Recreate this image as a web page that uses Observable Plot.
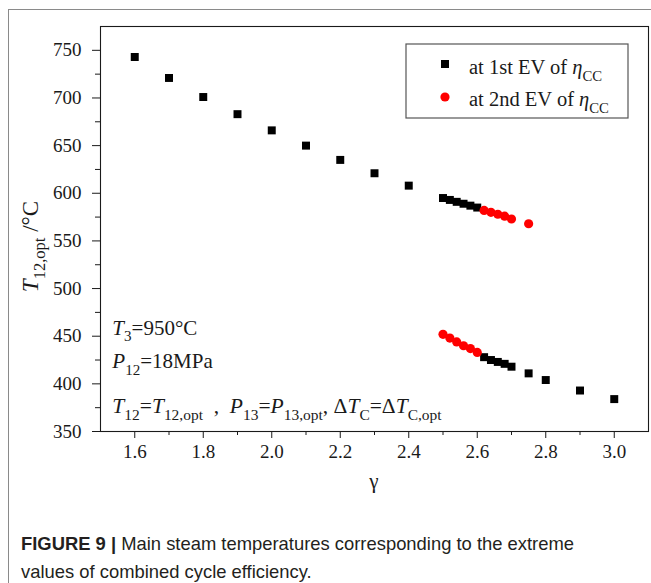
<!DOCTYPE html>
<html>
<head>
<meta charset="utf-8">
<script src="https://cdn.jsdelivr.net/npm/d3@7"></script>
<script src="https://cdn.jsdelivr.net/npm/@observablehq/plot@0.6"></script>
<style>
  body { margin: 0; background: #fff; }
  #wrap { position: relative; width: 651px; height: 583px; overflow: hidden; }
  #frame { position: absolute; left: 8px; top: 9px; right: -4px; bottom: -4px;
           border-left: 1px solid #8a8a8a; border-top: 1px solid #8a8a8a; }
  #chart { position: absolute; left: 0; top: 0; }
  #caption { position: absolute; left: 21px; top: 530px; font-family: "Liberation Sans", Arial, sans-serif;
             font-size: 18.4px; line-height: 28px; color: #231f20; }
  #caption b { font-weight: bold; }
</style>
</head>
<body>
<div id="wrap">
  <div id="frame"></div>
  <div id="chart"></div>
  <div id="caption"><b>FIGURE 9 |</b> Main steam temperatures corresponding to the extreme<br>values of combined cycle efficiency.</div>
</div>
<script>
// Optimal main steam temperature T12,opt (°C) versus pressure ratio γ
// at the 1st extreme value of combined-cycle efficiency
const gamma1st = [1.6, 1.7, 1.8, 1.9, 2.0, 2.1, 2.2, 2.3, 2.4,
                  2.5, 2.52, 2.54, 2.56, 2.58, 2.6,
                  2.62, 2.64, 2.66, 2.68, 2.7, 2.75, 2.8, 2.9, 3.0];
const temp1st  = [743, 721, 701, 683, 666, 650, 635, 621, 608,
                  595, 593, 591, 589, 587, 585,
                  428, 425, 423, 421, 418, 411, 404, 393, 384];

// ... and at the 2nd extreme value
const gamma2nd = [2.5, 2.52, 2.54, 2.56, 2.58, 2.6,
                  2.62, 2.64, 2.66, 2.68, 2.7, 2.75];
const temp2nd  = [452, 448, 444, 440, 437, 433,
                  582, 580, 578, 576, 573, 568];

// Axis ticks
const xMajor = [1.6, 1.8, 2.0, 2.2, 2.4, 2.6, 2.8, 3.0];
const xMinor = [1.7, 1.9, 2.1, 2.3, 2.5, 2.7, 2.9];
const yMajor = [350, 400, 450, 500, 550, 600, 650, 700, 750];
const yMinor = [375, 425, 475, 525, 575, 625, 675, 725];

const legendLabels = ["at 1st EV of ", "at 2nd EV of "];

const first = gamma1st.map((g, i) => ({g, t: temp1st[i]}));
const second = gamma2nd.map((g, i) => ({g, t: temp2nd[i]}));

const serif = '"Liberation Serif", "Times New Roman", serif';
const ink = "#1a1a1a";

const plot = Plot.plot({
  width: 651,
  height: 500,
  marginLeft: 100,
  marginRight: 3,
  marginTop: 26,
  marginBottom: 69,
  x: {domain: [1.5, 3.1]},
  y: {domain: [350, 775]},
  style: {fontFamily: serif, fontSize: "19px", color: ink, background: "transparent", overflow: "visible"},
  marks: [
    Plot.axisX({ticks: xMajor, tickSize: 7, tickPadding: 6, tickFormat: d3.format(".1f"), label: null,
                stroke: ink, fill: ink, fontSize: 19, fontFamily: serif}),
    Plot.axisX({ticks: xMinor, tickSize: 4, fill: "none", label: null, stroke: ink}),
    Plot.axisY({ticks: yMajor, tickSize: 8, tickPadding: 11, label: null,
                stroke: ink, fill: ink, fontSize: 19, fontFamily: serif}),
    Plot.axisY({ticks: yMinor, tickSize: 5, fill: "none", label: null, stroke: ink}),
    Plot.dot(first, {x: "g", y: "t", symbol: "square", r: 4.5, fill: "#000"}),
    Plot.dot(second, {x: "g", y: "t", symbol: "circle", r: 4.6, fill: "#ff0000"}),
    Plot.frame({stroke: ink, strokeWidth: 1.1})
  ]
});

document.getElementById("chart").append(plot);

const svg = d3.select(plot);
svg.selectAll("text").style("font-family", serif).style("font-variant", "normal");
const xs = plot.scale("x"), ys = plot.scale("y");

// Text with italic symbols and dropped subscripts
function rich(parent, parts, size) {
  const t = parent.append("text")
    .attr("font-size", size)
    .attr("text-anchor", "start")
    .attr("fill", ink)
    .style("font-family", serif);
  let shift = 0;
  for (const [s, kind] of parts) {
    const ts = t.append("tspan").text(s);
    const sub = kind.includes("s");
    const target = sub ? size * 0.32 : 0;
    if (target !== shift) { ts.attr("dy", target - shift); shift = target; }
    if (sub) ts.attr("font-size", size * 0.72);
    if (kind.includes("i")) ts.attr("font-style", "italic");
  }
  return t;
}

// y-axis title
rich(svg, [["T", "i"], ["12,opt", "s"], [" /°C", ""]], 23)
  .attr("text-anchor", "middle")
  .attr("transform", `translate(38,${(ys.apply(775) + ys.apply(350)) / 2 + 18}) rotate(-90)`);

// x-axis title
svg.append("text")
  .attr("x", (xs.apply(1.5) + xs.apply(3.1)) / 2)
  .attr("y", 488)
  .attr("text-anchor", "middle")
  .attr("font-size", 21)
  .attr("fill", ink)
  .style("font-family", serif)
  .text("γ");

// Operating-condition notes
const noteX = xs.apply(1.536);
rich(svg, [["T", "i"], ["3", "s"], ["=950°C", ""]], 21)
  .attr("transform", `translate(${noteX},${ys.apply(451)})`);
rich(svg, [["P", "i"], ["12", "s"], ["=18MPa", ""]], 21)
  .attr("transform", `translate(${noteX},${ys.apply(416)})`);
rich(svg, [
  ["T", "i"], ["12", "s"], ["=", ""], ["T", "i"], ["12,opt", "s"], ["  ,  ", ""],
  ["P", "i"], ["13", "s"], ["=", ""], ["P", "i"], ["13,opt", "s"], [", Δ", ""],
  ["T", "i"], ["C", "s"], ["=Δ", ""], ["T", "i"], ["C,opt", "s"]
], 21.5).attr("transform", `translate(${noteX},${ys.apply(369)})`).attr("xml:space", "preserve").style("white-space", "pre");

// Legend
const lg = svg.append("g");
lg.append("rect")
  .attr("x", 406).attr("y", 44).attr("width", 222).attr("height", 74)
  .attr("fill", "#fff").attr("stroke", "#555").attr("stroke-width", 1.2);
lg.append("rect")
  .attr("x", 441).attr("y", 60).attr("width", 8).attr("height", 8).attr("fill", "#000");
lg.append("circle")
  .attr("cx", 445).attr("cy", 97).attr("r", 4.6).attr("fill", "#ff0000");
rich(lg, [[legendLabels[0], ""], ["η", "i"], ["CC", "s"]], 20.5).attr("transform", "translate(469,74)");
rich(lg, [[legendLabels[1], ""], ["η", "i"], ["CC", "s"]], 20.5).attr("transform", "translate(469,106)");
</script>
</body>
</html>
